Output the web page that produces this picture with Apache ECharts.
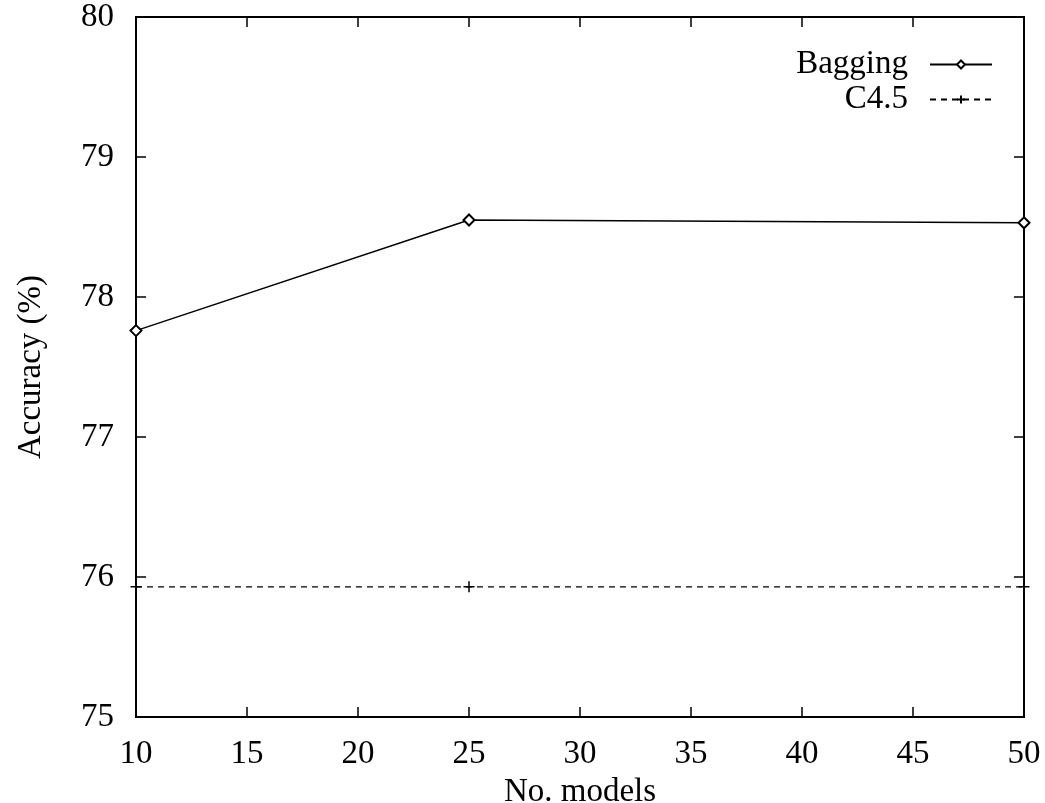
<!DOCTYPE html>
<html>
<head>
<meta charset="utf-8">
<script src="https://cdn.jsdelivr.net/npm/echarts@6/dist/echarts.min.js"></script>
<style>
  html, body { margin: 0; padding: 0; background: #fff; }
  #chart { width: 1045px; height: 803px; }
</style>
</head>
<body>
<div id="chart"></div>
<script>
// data
const modelCounts = [10, 25, 50]
const baggingAcc = [77.76, 78.55, 78.53]
const c45Acc = [75.93, 75.93, 75.93]
const xTicks = [10, 15, 20, 25, 30, 35, 40, 45, 50]
const yTicks = [75, 76, 77, 78, 79, 80]

const font = 'Liberation Serif'
const plusSymbol = 'path://M0,5L10,5M5,0L5,10'

const chart = echarts.init(document.getElementById('chart'))

const tickStyle = { show: true, inside: true, length: 10, lineStyle: { color: '#000', width: 1.5 } }
const noLine = { show: false }

chart.setOption({
  animation: false,
  backgroundColor: '#fff',
  grid: {
    left: 136, right: 21, top: 17, bottom: 86,
    outerBoundsMode: 'none',
    show: true, borderColor: '#000', borderWidth: 2, backgroundColor: 'transparent'
  },
  legend: {
    orient: 'vertical',
    right: 47,
    top: 43,
    align: 'right',
    itemWidth: 62,
    itemHeight: 10,
    itemGap: 2,
    textStyle: { fontFamily: font, fontSize: 33, color: '#000', lineHeight: 33, width: 120, align: 'right', padding: [0, 17, 0, 0] },
    data: ['Bagging', 'C4.5']
  },
  xAxis: [{
    type: 'value',
    min: xTicks[0], max: xTicks[xTicks.length - 1], interval: 5,
    axisLine: noLine, splitLine: noLine,
    axisTick: tickStyle,
    axisLabel: { fontFamily: font, fontSize: 33, color: '#000', margin: 21 },
    name: 'No. models',
    nameLocation: 'middle',
    nameGap: 59,
    nameTextStyle: { fontFamily: font, fontSize: 33, color: '#000' }
  }, {
    type: 'value', position: 'top',
    min: xTicks[0], max: xTicks[xTicks.length - 1], interval: 5,
    axisLine: noLine, splitLine: noLine, axisLabel: noLine,
    axisTick: tickStyle
  }],
  yAxis: [{
    type: 'value',
    min: yTicks[0], max: yTicks[yTicks.length - 1], interval: 1,
    axisLine: noLine, splitLine: noLine,
    axisTick: tickStyle,
    axisLabel: { fontFamily: font, fontSize: 33, color: '#000', margin: 22 },
    name: 'Accuracy (%)',
    nameLocation: 'middle',
    nameGap: 88,
    nameTextStyle: { fontFamily: font, fontSize: 33, color: '#000' }
  }, {
    type: 'value', position: 'right',
    min: yTicks[0], max: yTicks[yTicks.length - 1], interval: 1,
    axisLine: noLine, splitLine: noLine, axisLabel: noLine,
    axisTick: tickStyle
  }],
  series: [{
    name: 'Bagging',
    type: 'line',
    data: modelCounts.map((x, i) => [x, baggingAcc[i]]),
    symbol: 'emptyDiamond',
    symbolSize: 11,
    lineStyle: { color: '#000', width: 1.5 },
    itemStyle: { color: '#000', borderWidth: 1.5 },
    z: 3
  }, {
    name: 'C4.5',
    type: 'line',
    data: modelCounts.map((x, i) => [x, c45Acc[i]]),
    symbol: plusSymbol,
    symbolSize: 11,
    lineStyle: { color: '#000', width: 1.2, type: [6, 5] },
    itemStyle: { color: '#000', borderColor: '#000', borderWidth: 1.5 },
    z: 3
  }]
})
</script>
</body>
</html>
